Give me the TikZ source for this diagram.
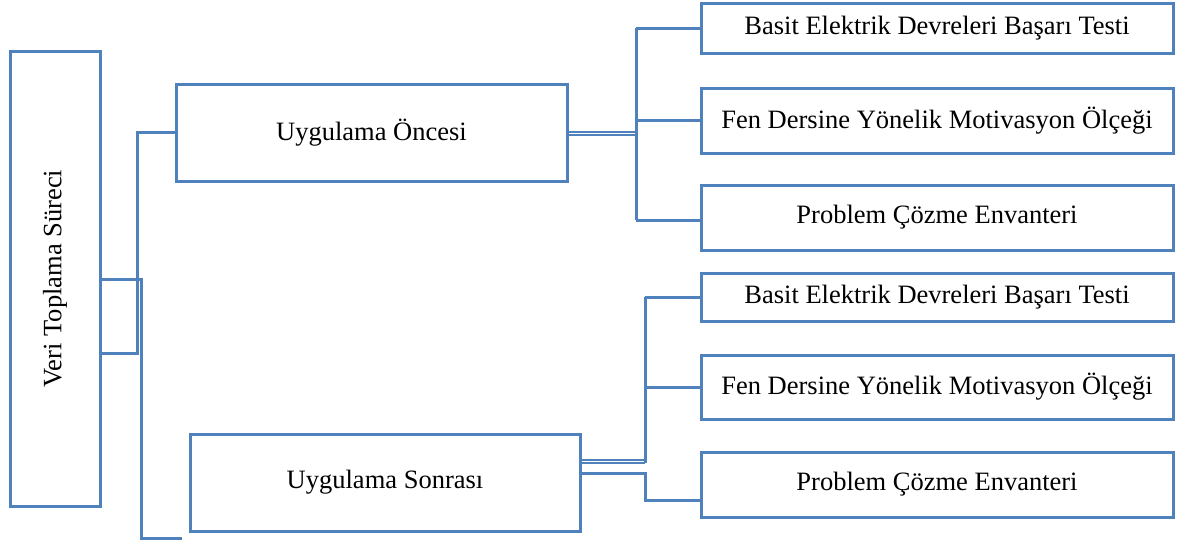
\documentclass[tikz,border=0pt]{standalone}
\usepackage{fontspec}
\setmainfont{Liberation Serif}
\definecolor{lineblue}{RGB}{79,129,189}
\begin{document}
\begin{tikzpicture}[x=1pt,y=-1pt,
  txt/.style={font=\fontsize{26.5}{30}\selectfont},
  box/.style={draw=lineblue, line width=3pt, inner sep=0pt, outer sep=0pt, anchor=north west},
  conn/.style={draw=lineblue, line width=3pt},
  thin/.style={draw=lineblue, line width=2pt}]
\useasboundingbox (0,0) rectangle (1179,542);
\node[box, minimum width=90pt, minimum height=455pt] (veri) at (10,51) {};
\node[txt, rotate=90] (veritext) at (veri.center) {Veri Toplama Süreci};
\node[box, minimum width=391pt, minimum height=97pt] (oncesi) at (176,84) {};
\node[txt] (oncesitext) at (oncesi.center) {Uygulama Öncesi};
\node[box, minimum width=390pt, minimum height=97pt] (sonrasi) at (190,434) {};
\node[txt] (sonrasitext) at (sonrasi.center) {Uygulama Sonrası};
\node[box, minimum width=472pt, minimum height=50pt] (r1) at (701,3) {};
\node[box, minimum width=472pt, minimum height=65pt] (r2) at (701,88) {};
\node[box, minimum width=472pt, minimum height=65pt] (r3) at (701,185) {};
\node[box, minimum width=472pt, minimum height=48pt] (r4) at (701,273) {};
\node[box, minimum width=472pt, minimum height=64pt] (r5) at (701,355) {};
\node[box, minimum width=472pt, minimum height=65pt] (r6) at (701,452) {};
\foreach \n/\t in {r1/Basit Elektrik Devreleri Başarı Testi, r2/Fen Dersine Yönelik Motivasyon Ölçeği, r3/Problem Çözme Envanteri, r4/Basit Elektrik Devreleri Başarı Testi, r5/Fen Dersine Yönelik Motivasyon Ölçeği, r6/Problem Çözme Envanteri}
  \node[txt] (\n text) at (\n.center) {\t};
% left connectors
\coordinate (vendone) at (182,538);
\draw[conn] (veri.east |- 0,353) -- (137,353) -- (137,0 |- oncesi.west) -- (oncesi.west);
\draw[conn] (veri.east |- 0,279) -- (141,279) -- (141,538) -- (vendone);
% top group
\draw[thin] (oncesi.east |- 0,131.5) -- (636,131.5);
\draw[thin] (oncesi.east |- 0,135) -- (636,135);
\draw[conn] (636,0 |- r1.west) -- (636,220);
\draw[conn] (636,0 |- r1.west) -- (r1.west);
\draw[conn] (636,0 |- r2.west) -- (r2.west);
\draw[conn] (636,220) -- (r3.west |- 0,220);
% bottom group
\draw[thin] (sonrasi.east |- 0,459.5) -- (645,459.5);
\draw[thin] (sonrasi.east |- 0,462.5) -- (645,462.5);
\draw[conn] (645,0 |- r4.west) -- (645,462.5);
\draw[conn] (645,0 |- r4.west) -- (r4.west);
\draw[conn] (645,0 |- r5.west) -- (r5.west);
\draw[conn] (sonrasi.east |- 0,473) -- (645,473) -- (645,500) -- (r6.west |- 0,500);
\end{tikzpicture}
\end{document}
